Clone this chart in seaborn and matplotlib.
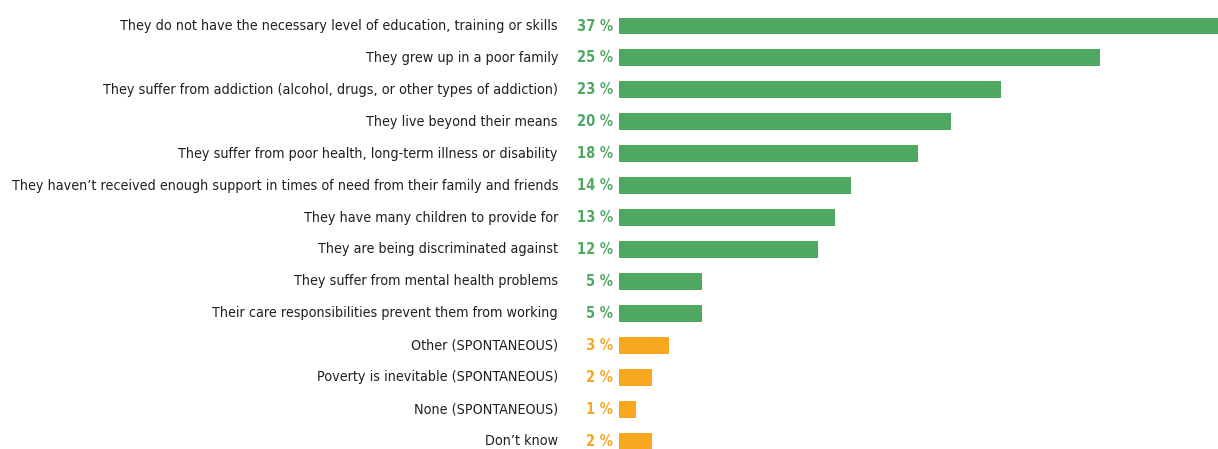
import matplotlib
matplotlib.use('Agg')
import matplotlib.pyplot as plt
import matplotlib.transforms as mtransforms
from matplotlib import font_manager
import seaborn as sns
import pandas as pd

# reasons (top to bottom)
reasons = [
    'They do not have the necessary level of education, training or skills',
    'They grew up in a poor family',
    'They suffer from addiction (alcohol, drugs, or other types of addiction)',
    'They live beyond their means',
    'They suffer from poor health, long-term illness or disability',
    'They haven\u2019t received enough support in times of need from their family and friends',
    'They have many children to provide for',
    'They are being discriminated against',
    'They suffer from mental health problems',
    'Their care responsibilities prevent them from working',
    'Other (SPONTANEOUS)',
    'Poverty is inevitable (SPONTANEOUS)',
    'None (SPONTANEOUS)',
    'Don\u2019t know',
]
# printed shares
shares = [37, 25, 23, 20, 18, 14, 13, 12, 5, 5, 3, 2, 1, 2]
# bar lengths as drawn in the picture (the 25 % bar is drawn longer)
bar_lengths = [37, 29, 23, 20, 18, 14, 13, 12, 5, 5, 3, 2, 1, 2]
spontaneous = [False] * 10 + [True] * 4

GREEN = '#4ea862'
ORANGE = '#f7a81e'

df = pd.DataFrame({'reason': reasons, 'length': bar_lengths,
                   'share': shares, 'spont': spontaneous})
colors = [ORANGE if s else GREEN for s in df['spont']]

# look for a condensed face, the original uses a narrow font
fprops = None
for f in font_manager.fontManager.ttflist:
    if 'DejaVuSansCondensed.ttf' in f.fname:
        fprops = font_manager.FontProperties(fname=f.fname)
        bold = [g.fname for g in font_manager.fontManager.ttflist
                if 'DejaVuSansCondensed-Bold.ttf' in g.fname]
        bprops = font_manager.FontProperties(fname=bold[0]) if bold else fprops
        break
if fprops is None:
    fprops = font_manager.FontProperties(family='Liberation Sans')
    bprops = font_manager.FontProperties(family='Liberation Sans', weight='bold')

fig = plt.figure(figsize=(12.18, 4.49), dpi=100)
ax = fig.add_axes([619 / 1218, 0, 1 - 619 / 1218, 1])

sns.barplot(data=df, x='length', y='reason', hue='reason', palette=colors,
            legend=False, width=0.53, saturation=1, ax=ax)

ax.set_xlim(0, 36.1)
ax.set_ylim(13.25, -0.815)
ax.axis('off')

pct_off = mtransforms.offset_copy(ax.transData, fig=fig, x=-6, y=0, units='dots')
lab_off = mtransforms.offset_copy(ax.transData, fig=fig, x=-61, y=0, units='dots')
labels = []
for i, row in df.iterrows():
    col = ORANGE if row['spont'] else GREEN
    p = ax.text(0, i, f"{row['share']} %", transform=pct_off, ha='right', va='center',
                color=col, fontproperties=bprops, clip_on=False)
    p.set_fontsize(10.5)
    t = ax.text(0, i, row['reason'], transform=lab_off, ha='right', va='center',
                color='#231f20', fontproperties=fprops, clip_on=False)
    t.set_fontsize(12)
    labels.append(t)

# shrink the labels so the longest one spans the same width as in the reference
renderer = fig.canvas.get_renderer()
widest = max(t.get_window_extent(renderer).width for t in labels)
size = 12 * 546 / widest
for t in labels:
    t.set_fontsize(size)

fig.savefig('out.png', dpi=100)
